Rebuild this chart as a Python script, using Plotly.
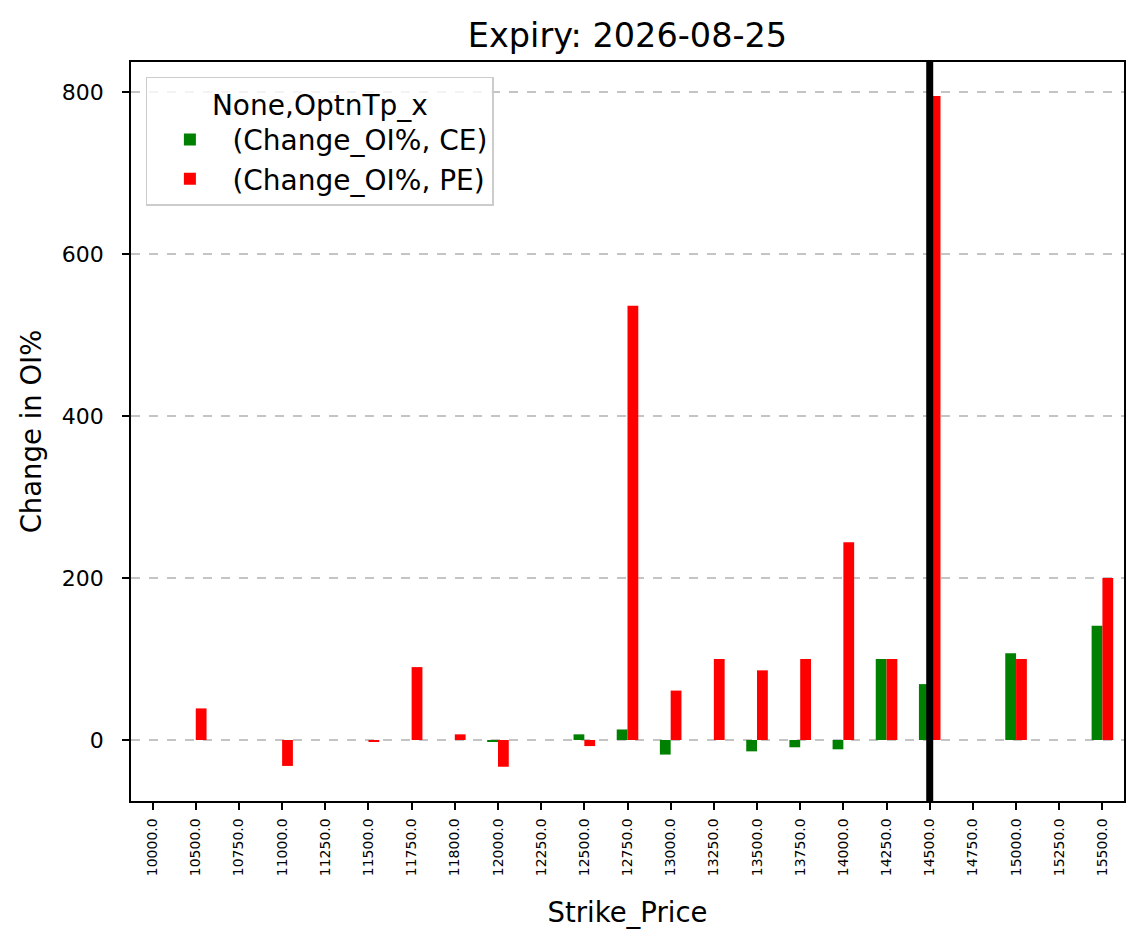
import plotly.graph_objects as go

strikes = ["10000.0", "10500.0", "10750.0", "11000.0", "11250.0", "11500.0",
           "11750.0", "11800.0", "12000.0", "12250.0", "12500.0", "12750.0",
           "13000.0", "13250.0", "13500.0", "13750.0", "14000.0", "14250.0",
           "14500.0", "14750.0", "15000.0", "15250.0", "15500.0"]
ce_change = [None, None, None, None, None, None,
             None, None, -2.5, None, 7, 13,
             -18, None, -14, -9, -11.5, 100,
             69, None, 107, None, 141]
pe_change = [None, 39, None, -32, None, -2.5,
             90, 7, -33, None, -7.5, 536,
             61, 100, 86, 100, 244, 100,
             795, None, 100, None, 200]
spot_strike = "14500.0"
yticks = [0, 200, 400, 600, 800]

FONT = "DejaVu Sans"

fig = go.Figure()
fig.add_trace(go.Bar(x=strikes, y=ce_change, name="(Change_OI%, CE)",
                     marker=dict(color="#008000", line=dict(width=0))))
fig.add_trace(go.Bar(x=strikes, y=pe_change, name="(Change_OI%, PE)",
                     marker=dict(color="#ff0000", line=dict(width=0))))

spot_idx = strikes.index(spot_strike)
fig.add_shape(type="line", xref="x", yref="paper", x0=spot_idx, x1=spot_idx,
              y0=0, y1=1, line=dict(color="black", width=7), layer="above")

fig.update_layout(
    width=1143, height=950,
    margin=dict(l=131, r=19, t=62, b=149),
    paper_bgcolor="white", plot_bgcolor="white",
    font=dict(family=FONT, color="black"),
    barmode="group", bargap=0.5, bargroupgap=0,
    title=dict(text="Expiry: 2026-08-25", x=0.5, xref="paper", xanchor="center",
               y=1 - 35 / 950, yanchor="middle",
               font=dict(size=33.5, family=FONT, color="black")),
    legend=dict(x=0.015, y=0.98, xanchor="left", yanchor="top",
                bgcolor="rgba(255,255,255,0.8)", bordercolor="#cccccc",
                borderwidth=1.5, font=dict(size=28, family=FONT),
                title=dict(text="None,OptnTp_x", side="top center",
                           font=dict(size=28, family=FONT)),
                itemwidth=75),
    xaxis=dict(type="category", range=[-0.5, len(strikes) - 0.5],
               showline=True, mirror=True, linecolor="black", linewidth=1.5,
               ticks="outside", ticklen=7, tickwidth=1.5, tickcolor="black",
               tickangle=-90, tickfont=dict(size=14, family=FONT),
               ticklabelstandoff=3,
               showgrid=False, zeroline=False,
               title=dict(text="Strike_Price", standoff=27,
                          font=dict(size=27.5, family=FONT))),
    yaxis=dict(range=[-75.3, 837], tickvals=yticks,
               showline=True, mirror=True, linecolor="black", linewidth=1.5,
               ticks="outside", ticklen=7, tickwidth=1.5, tickcolor="black",
               tickfont=dict(size=22, family=FONT), ticklabelstandoff=14,
               showgrid=True, gridcolor="#c4c4c4", griddash="dash", gridwidth=1.5,
               zeroline=False,
               title=dict(text="Change in OI%", standoff=12,
                          font=dict(size=27.5, family=FONT))),
)

fig.write_html("out.html")
